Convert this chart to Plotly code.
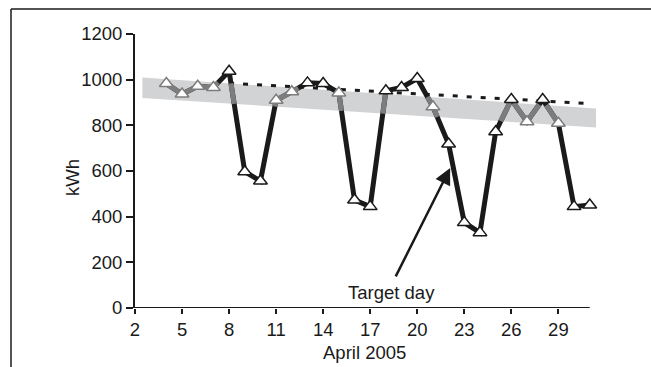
import plotly.graph_objects as go
import numpy as np

# ---- data ----
days = list(range(4, 32))
kwh = [983, 937, 971, 966, 1037, 597, 556, 910, 947, 986, 983, 942, 473, 444,
       951, 966, 1005, 881, 718, 374, 330, 772, 913, 816, 913, 809, 444, 451]

band_x = [2.47, 31.4]
band_upper = [1010, 874]
band_lower = [920, 791]

baseline_x = [8, 31]
baseline_y = [985, 895]

target_head = (22.1, 613)
target_tail = (18.58, 132)
target_label = (18.37, 67)

x_ticks = list(range(2, 30, 3))
y_ticks = list(range(0, 1201, 200))

FONT = "Liberation Sans, Arial, sans-serif"
FS = 18.5
BLACK = "#1a1a1a"
GRAY = "#7d7d7d"
BAND = "#d2d3d5"


def upper(x):
    return np.interp(x, band_x, band_upper)


def lower(x):
    return np.interp(x, band_x, band_lower)


# portions of the data line lying inside the band
gx, gy = [], []
for i in range(len(days) - 1):
    x0, x1, y0, y1 = days[i], days[i + 1], kwh[i], kwh[i + 1]
    lo, hi = 0.0, 1.0
    for fa, fb in ((y0 - upper(x0), y1 - upper(x1)),
                   (lower(x0) - y0, lower(x1) - y1)):
        d = fb - fa
        if abs(d) < 1e-9:
            if fa > 0:
                lo, hi = 1, 0
        elif d > 0:
            hi = min(hi, -fa / d)
        else:
            lo = max(lo, -fa / d)
    if hi > lo:
        gx += [x0 + lo * (x1 - x0), x0 + hi * (x1 - x0), None]
        gy += [y0 + lo * (y1 - y0), y0 + hi * (y1 - y0), None]

inside = [lower(d) <= v <= upper(d) for d, v in zip(days, kwh)]
marker_line_colors = [GRAY if f else BLACK for f in inside]

fig = go.Figure()

fig.add_trace(go.Scatter(
    x=band_x + band_x[::-1], y=band_upper + band_lower[::-1],
    fill="toself", fillcolor=BAND, line=dict(width=0), mode="lines",
    hoverinfo="skip", showlegend=False))

fig.add_trace(go.Scatter(
    x=baseline_x, y=baseline_y, mode="lines",
    line=dict(color=BLACK, width=3, dash="5px,9px"), showlegend=False))

fig.add_trace(go.Scatter(
    x=days, y=kwh, mode="lines",
    line=dict(color=BLACK, width=5), showlegend=False))

fig.add_trace(go.Scatter(
    x=gx, y=gy, mode="lines",
    line=dict(color=GRAY, width=5), showlegend=False))

fig.add_trace(go.Scatter(
    x=days, y=kwh, mode="markers", cliponaxis=False,
    marker=dict(symbol="triangle-up", size=12, color="white",
                line=dict(color=marker_line_colors, width=1.5)),
    showlegend=False))

L, R, T, B = 135, 55, 34, 59
W, H = 651, 367
pw, ph = W - L - R, H - T - B


def px(xp):
    return (xp - L) / pw


def py(yp):
    return (H - B - yp) / ph


fig.update_layout(
    width=W, height=H,
    margin=dict(l=L, r=R, t=T, b=B),
    paper_bgcolor="white", plot_bgcolor="white",
    font=dict(family=FONT, size=FS, color=BLACK),
    xaxis=dict(range=[2, 31.4], tickvals=x_ticks, showgrid=False,
               zeroline=False, showline=False, ticks="outside",
               ticklen=5, tickwidth=1.5, tickcolor=BLACK,
               tickfont=dict(size=FS)),
    yaxis=dict(range=[0, 1200], tickvals=y_ticks, showgrid=False,
               zeroline=False, showline=True, linecolor=BLACK, linewidth=2,
               ticks="outside", ticklen=7, tickwidth=1.5, tickcolor=BLACK,
               tickfont=dict(size=FS)),
    shapes=[
        dict(type="line", xref="x", yref="y", x0=2, x1=31, y0=0, y1=0,
             line=dict(color=BLACK, width=2)),
        dict(type="line", xref="paper", yref="paper", x0=px(11), x1=px(11),
             y0=py(9), y1=py(370), line=dict(color=BLACK, width=1.5)),
        dict(type="line", xref="paper", yref="paper", x0=px(11), x1=px(655),
             y0=py(9), y1=py(9), line=dict(color=BLACK, width=1.5)),
    ],
    annotations=[
        dict(x=target_head[0], y=target_head[1], ax=target_tail[0],
             ay=target_tail[1], xref="x", yref="y", axref="x", ayref="y",
             text="", showarrow=True, arrowhead=2, arrowsize=1.3,
             arrowwidth=2.5, arrowcolor=BLACK),
        dict(x=target_label[0], y=target_label[1], xref="x", yref="y",
             xanchor="center", yanchor="middle",
             text="Target day", showarrow=False, font=dict(size=FS)),
        dict(x=px(72), y=py(178), xref="paper", yref="paper", text="kWh",
             xanchor="center", yanchor="middle",
             textangle=-90, showarrow=False, font=dict(size=FS)),
        dict(x=px(364), y=py(352), xref="paper", yref="paper",
             xanchor="center", yanchor="middle",
             text="April 2005", showarrow=False, font=dict(size=FS)),
    ],
)

fig.write_html("out.html")
